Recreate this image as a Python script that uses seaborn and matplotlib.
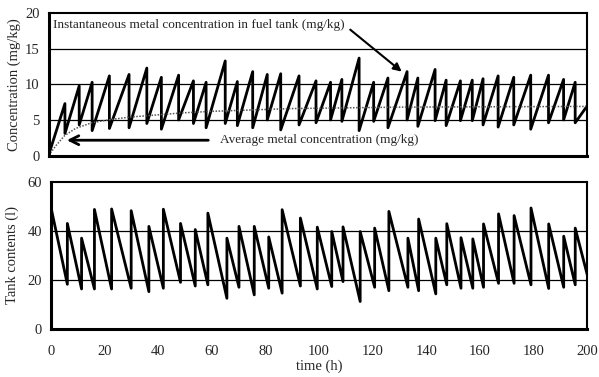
import numpy as np
import pandas as pd
import matplotlib
matplotlib.use("Agg")
import matplotlib.pyplot as plt
import seaborn as sns

# ---------------- data ----------------
refill_t = [0, 6.1, 11.4, 16.2, 22.6, 29.9, 36.5, 41.9, 48.3, 53.8, 58.5, 65.6,
            70.1, 75.8, 81.2, 86.2, 93.0, 99.3, 104.7, 108.9, 115.3, 120.7, 126.0,
            133.1, 137.1, 143.5, 147.6, 152.9, 157.3, 161.3, 166.9, 172.7, 179.0,
            185.6, 191.2, 195.5]
end_t = 200
tank_peak = [49.5, 43.0, 37.0, 48.7, 48.9, 48.2, 41.8, 48.8, 43.0, 40.5, 47.2, 37.0,
             41.8, 41.8, 37.5, 48.6, 45.2, 41.5, 39.7, 41.6, 39.7, 41.1, 47.9,
             37.0, 44.8, 37.0, 42.9, 37.2, 36.7, 42.8, 46.9, 46.2, 49.3,
             42.8, 37.8, 41.1]
tank_low = [18.2, 16.3, 16.3, 16.3, 16.6, 15.2, 16.6, 19.0, 17.5, 18.0, 12.5, 17.0,
            13.9, 16.6, 14.6, 17.5, 16.3, 17.3, 19.3, 11.2, 17.0, 15.6, 17.0,
            15.6, 14.3, 18.0, 16.6, 16.6, 17.0, 18.6, 18.6, 18.0, 16.5,
            17.0, 18.0, 22.0]
conc_low = [0.0, 3.1, 4.3, 3.5, 3.8, 3.9, 4.5, 3.7, 5.0, 4.5, 3.9, 4.5,
            4.2, 3.9, 5.0, 3.6, 4.3, 4.6, 5.0, 4.8, 3.5, 4.8, 3.9,
            5.0, 4.1, 4.9, 4.2, 4.9, 4.9, 4.3, 4.0, 4.3, 3.7,
            4.6, 5.0, 4.6]
conc_high = [7.3, 9.8, 10.3, 11.2, 11.4, 12.3, 11.0, 11.3, 10.5, 10.3, 13.3, 10.4,
             11.8, 11.4, 11.5, 11.2, 10.5, 10.3, 10.7, 13.7, 10.3, 10.9, 11.8,
             10.9, 12.1, 10.6, 10.5, 10.6, 10.8, 11.2, 11.0, 11.3, 11.3,
             10.7, 10.3, 7.0]
avg_t = [0, 3, 6, 10, 16, 22, 30, 40, 50, 60, 75, 90, 110, 130, 160, 200]
avg_c = [0, 1.5, 2.8, 3.8, 4.6, 5.0, 5.4, 5.7, 6.0, 6.2, 6.4, 6.6, 6.7, 6.8, 6.85, 6.9]

label_top = "Instantaneous metal concentration in fuel tank (mg/kg)"
label_avg = "Average metal concentration (mg/kg)"

# ---------------- build sawtooth tables ----------------
next_t = refill_t[1:] + [end_t]
tank_rows, conc_rows = [], []
for i, t0 in enumerate(refill_t):
    tank_rows += [(t0, tank_peak[i]), (next_t[i], tank_low[i])]
    conc_rows += [(t0, conc_low[i]), (next_t[i], conc_high[i])]
tank = pd.DataFrame(tank_rows, columns=["t", "v"])
conc = pd.DataFrame(conc_rows, columns=["t", "c"])
avg = pd.DataFrame({"t": avg_t, "c": avg_c})

sns.set_style("white")
plt.rcParams["font.family"] = ["Liberation Serif", "DejaVu Serif"]
plt.rcParams["font.size"] = 9.5

W, H = 599, 377
fig = plt.figure(figsize=(W / 100, H / 100), dpi=100)
ax1 = fig.add_axes([48.5 / W, 1 - 155.5 / H, (587.3 - 48.5) / W, (155.5 - 13.3) / H])
ax2 = fig.add_axes([51 / W, 1 - 329 / H, (587.3 - 51) / W, (329 - 181.7) / H])

sns.lineplot(data=conc, x="t", y="c", ax=ax1, sort=False, estimator=None,
             color="black", linewidth=2.0)
sns.lineplot(data=avg, x="t", y="c", ax=ax1, sort=False, estimator=None,
             color="#555555", linewidth=1.1, linestyle=(0, (1, 1)))
sns.lineplot(data=tank, x="t", y="v", ax=ax2, sort=False, estimator=None,
             color="black", linewidth=2.0)

for ax, ymax, ystep in [(ax1, 20, 5), (ax2, 60, 20)]:
    ax.set_xlim(0, 200)
    ax.set_ylim(0, ymax)
    ax.set_yticks(np.arange(0, ymax + 1, ystep))
    ax.set_xticks(np.arange(0, 201, 20))
    ax.set_xticks(np.arange(0, 201, 4), minor=True)
    for y in np.arange(ystep, ymax, ystep):
        ax.axhline(y, color="black", linewidth=0.9, zorder=0)
    for s in ax.spines.values():
        s.set_color("black")
        s.set_linewidth(1.5)
    ax.spines["left"].set_linewidth(2.2)
    ax.spines["bottom"].set_linewidth(2.2)
    ax.tick_params(axis="both", which="major", direction="inout", length=7,
                   width=1.5, color="black", labelsize=10.5, pad=3)
    ax.tick_params(axis="x", which="minor", direction="inout", length=4,
                   width=1.2, color="black")
    ax.set_xlabel("")
    ax.set_ylabel("")

ax1.tick_params(axis="x", which="both", labelbottom=False)
ax2.tick_params(axis="x", which="major", pad=8)

ax1.set_ylabel("Concentration (mg/kg)", fontsize=10.5, labelpad=2.5)
ax2.set_ylabel("Tank contents (l)", fontsize=10.5, labelpad=6)
ax2.set_xlabel("time (h)", fontsize=10.5, labelpad=1)

ax1.text(1.7, 18.4, label_top, fontsize=9.5, va="center", ha="left")
ax1.annotate("", xy=(131.1, 11.8), xytext=(112, 17.7),
             arrowprops=dict(arrowstyle="-|>", color="black", lw=1.5,
                             mutation_scale=12, shrinkA=0, shrinkB=0))
ax1.text(63.5, 2.15, label_avg, fontsize=9.5, va="center", ha="left")
ax1.annotate("", xy=(6.8, 2.15), xytext=(59.3, 2.15),
             arrowprops=dict(arrowstyle="->", color="black", lw=2.0,
                             mutation_scale=16, shrinkA=0, shrinkB=0))

fig.savefig("out.png", dpi=100)
